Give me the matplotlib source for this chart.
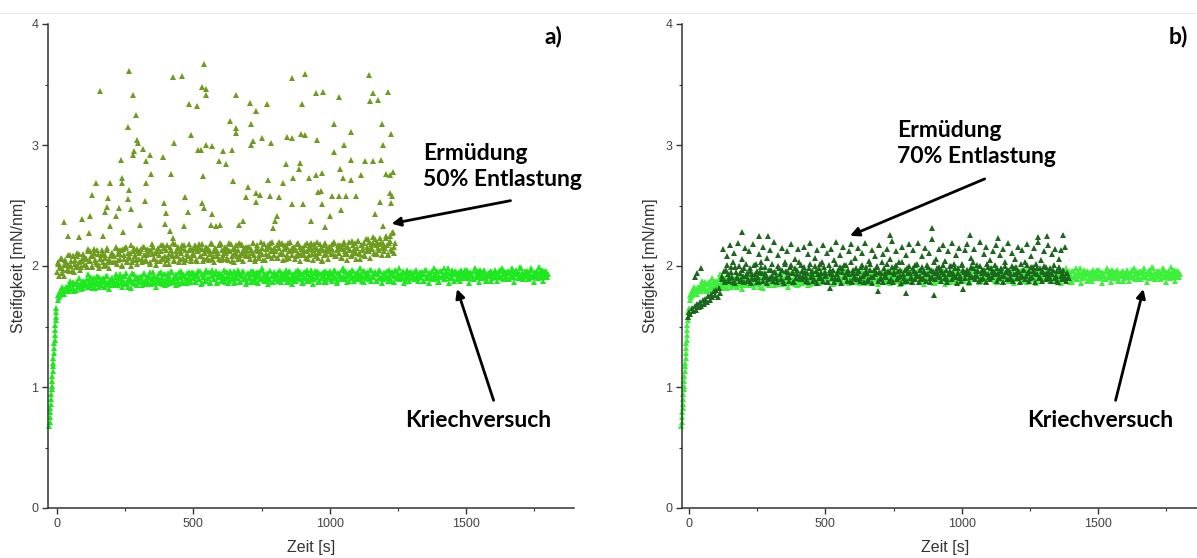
import numpy as np
import matplotlib
matplotlib.use('Agg')
import matplotlib.pyplot as plt
from matplotlib.lines import Line2D
from matplotlib.ticker import MultipleLocator

# Kriechversuch: loading ramp (1 s steps), then the creep plateau
creep_ramp_t = list(range(-28, -1))
creep_ramp_y = [0.68, 0.71, 0.75, 0.79, 0.83, 0.86, 0.90, 0.94, 0.98, 1.01, 1.05, 1.09, 1.13, 1.17,
                1.20, 1.24, 1.28, 1.32, 1.36, 1.39, 1.43, 1.47, 1.51, 1.55, 1.58, 1.62, 1.65]
creep_y = [
    1.72, 1.76, 1.79, 1.77, 1.81, 1.80, 1.83, 1.79, 1.84, 1.81, 1.86, 1.82, 1.85, 1.80, 1.87, 1.83, 1.84, 1.88, 1.82, 1.86,
    1.85, 1.89, 1.83, 1.87, 1.84, 1.90, 1.86, 1.82, 1.88, 1.85, 1.91, 1.84, 1.87, 1.89, 1.83, 1.92, 1.86, 1.88, 1.84, 1.90,
    1.87, 1.85, 1.91, 1.88, 1.84, 1.93, 1.86, 1.89, 1.85, 1.92, 1.87, 1.83, 1.90, 1.88, 1.94, 1.86, 1.89, 1.85, 1.91, 1.87,
    1.90, 1.84, 1.88, 1.93, 1.86, 1.91, 1.87, 1.95, 1.85, 1.89, 1.92, 1.86, 1.90, 1.88, 1.94, 1.87, 1.91, 1.85, 1.93, 1.89,
    1.88, 1.92, 1.86, 1.95, 1.89, 1.87, 1.93, 1.90, 1.85, 1.91, 1.96, 1.88, 1.92, 1.86, 1.94, 1.89, 1.91, 1.87, 1.95, 1.90,
    1.92, 1.87, 1.94, 1.89, 1.96, 1.86, 1.91, 1.93, 1.88, 1.95, 1.90, 1.87, 1.92, 1.97, 1.89, 1.93, 1.86, 1.91, 1.94, 1.88,
    1.93, 1.90, 1.87, 1.95, 1.91, 1.88, 1.96, 1.89, 1.92, 1.86, 1.94, 1.90, 1.97, 1.88, 1.92, 1.95, 1.89, 1.91, 1.87, 1.94,
    1.90, 1.96, 1.88, 1.93, 1.91, 1.87, 1.95, 1.92, 1.89, 1.98, 1.90, 1.93, 1.88, 1.94, 1.91, 1.96, 1.87, 1.92, 1.95, 1.89,
    1.93, 1.88, 1.96, 1.91, 1.94, 1.89, 1.92, 1.97, 1.90, 1.87, 1.95, 1.91, 1.93, 1.88, 1.96, 1.92, 1.90, 1.94, 1.89, 1.93,
    1.91, 1.95, 1.88, 1.93, 1.90, 1.97, 1.92, 1.89, 1.94, 1.91, 1.96, 1.88, 1.93, 1.90, 1.95, 1.92, 1.87, 1.94, 1.91, 1.96,
    1.89, 1.93, 1.91, 1.96, 1.88, 1.94, 1.92, 1.90, 1.97, 1.91, 1.89, 1.95, 1.92, 1.88, 1.94, 1.91, 1.96, 1.90, 1.93, 1.89,
    1.95, 1.91, 1.93, 1.88, 1.96, 1.92, 1.90, 1.94, 1.89, 1.97, 1.92, 1.91, 1.95, 1.88, 1.93, 1.90, 1.96, 1.92, 1.89, 1.94,
    1.91, 1.96, 1.90, 1.93, 1.88, 1.95, 1.92, 1.97, 1.90, 1.94, 1.89, 1.93, 1.91, 1.96, 1.88, 1.94, 1.92, 1.90, 1.95, 1.91,
    1.93, 1.89, 1.96, 1.92, 1.90, 1.95, 1.91, 1.94, 1.88, 1.97, 1.92, 1.90, 1.94, 1.91, 1.96, 1.89, 1.93, 1.95, 1.90, 1.92,
    1.96, 1.91, 1.93, 1.89, 1.95, 1.92, 1.98, 1.90, 1.94, 1.91, 1.93, 1.96, 1.89, 1.92, 1.95, 1.90, 1.94, 1.92, 1.97, 1.91,
    1.93, 1.90, 1.95, 1.92, 1.89, 1.96, 1.91, 1.94, 1.92, 1.97, 1.90, 1.93, 1.95, 1.91, 1.88, 1.94, 1.92, 1.96, 1.90, 1.93,
    1.95, 1.91, 1.94, 1.92, 1.97, 1.90, 1.93, 1.96, 1.91, 1.94, 1.89, 1.95, 1.92, 1.96, 1.91, 1.93, 1.97, 1.90, 1.94, 1.92,
    1.94, 1.91, 1.96, 1.92, 1.95, 1.90, 1.93, 1.97, 1.91, 1.94, 1.92, 1.96, 1.90, 1.95, 1.93, 1.91, 1.96, 1.92, 1.94, 1.93,
]
creep_t = np.arange(5, 5 * len(creep_y) + 5, 5)
# readings taken in between (half-step offset)
creep_mid_y = [
    1.76, 1.74, 1.79, 1.83, 1.78, 1.77, 1.83, 1.82, 1.79, 1.88, 1.82, 1.87, 1.79, 1.85, 1.87, 1.83, 1.90, 1.81, 1.85, 1.88,
    1.87, 1.84, 1.93, 1.86, 1.91, 1.82, 1.88, 1.90, 1.85, 1.92, 1.83, 1.87, 1.89, 1.90, 1.83, 1.88, 1.92, 1.85, 1.81, 1.89,
    1.90, 1.88, 1.84, 1.93, 1.86, 1.91, 1.89, 1.83, 1.92, 1.87, 1.94, 1.85, 1.88, 1.90, 1.82, 1.86, 1.93, 1.89, 1.84, 1.91,
    1.90, 1.92, 1.87, 1.94, 1.85, 1.89, 1.91, 1.92, 1.85, 1.90, 1.95, 1.87, 1.83, 1.91, 1.89, 1.86, 1.95, 1.88, 1.93, 1.84,
    1.85, 1.94, 1.89, 1.96, 1.87, 1.90, 1.92, 1.84, 1.88, 1.95, 1.91, 1.86, 1.93, 1.92, 1.90, 1.86, 1.95, 1.88, 1.93, 1.91,
    1.94, 1.87, 1.92, 1.96, 1.89, 1.85, 1.93, 1.91, 1.88, 1.97, 1.90, 1.95, 1.86, 1.92, 1.94, 1.89, 1.96, 1.87, 1.91, 1.93,
    1.91, 1.88, 1.97, 1.90, 1.95, 1.86, 1.92, 1.94, 1.89, 1.96, 1.87, 1.91, 1.93, 1.94, 1.87, 1.92, 1.96, 1.89, 1.85, 1.93,
    1.93, 1.91, 1.87, 1.96, 1.89, 1.94, 1.92, 1.86, 1.95, 1.90, 1.97, 1.88, 1.91, 1.93, 1.85, 1.89, 1.96, 1.92, 1.87, 1.94,
    1.92, 1.94, 1.89, 1.96, 1.87, 1.91, 1.93, 1.94, 1.87, 1.92, 1.96, 1.89, 1.85, 1.93, 1.91, 1.88, 1.97, 1.90, 1.95, 1.86,
    1.86, 1.95, 1.90, 1.97, 1.88, 1.91, 1.93, 1.85, 1.89, 1.96, 1.92, 1.87, 1.94, 1.93, 1.91, 1.87, 1.96, 1.89, 1.94, 1.92,
    1.95, 1.88, 1.93, 1.97, 1.90, 1.86, 1.94, 1.92, 1.89, 1.98, 1.91, 1.96, 1.87, 1.93, 1.95, 1.90, 1.97, 1.88, 1.92, 1.94,
    1.92, 1.89, 1.98, 1.91, 1.96, 1.87, 1.93, 1.95, 1.90, 1.97, 1.88, 1.92, 1.94, 1.95, 1.88, 1.93, 1.97, 1.90, 1.86, 1.94,
    1.94, 1.92, 1.88, 1.97, 1.90, 1.95, 1.93, 1.87, 1.96, 1.91, 1.98, 1.89, 1.92, 1.94, 1.86, 1.90, 1.97, 1.93, 1.88, 1.95,
    1.93, 1.95, 1.90, 1.97, 1.88, 1.92, 1.94, 1.95, 1.88, 1.93, 1.97, 1.90, 1.86, 1.94, 1.92, 1.89, 1.98, 1.91, 1.96, 1.87,
    1.87, 1.96, 1.91, 1.98, 1.89, 1.92, 1.94, 1.86, 1.90, 1.97, 1.93, 1.88, 1.95, 1.94, 1.92, 1.88, 1.97, 1.90, 1.95, 1.93,
    1.97, 1.90, 1.86, 1.94, 1.92, 1.89, 1.98, 1.91, 1.96, 1.87, 1.93, 1.95, 1.90, 1.97, 1.88, 1.92, 1.94, 1.95, 1.88, 1.93,
    1.92, 1.97, 1.88, 1.94, 1.96, 1.91, 1.98, 1.89, 1.93, 1.95, 1.96, 1.89, 1.94, 1.98, 1.91, 1.87, 1.95, 1.93, 1.90, 1.99,
    1.98, 1.89, 1.93, 1.95, 1.96, 1.89, 1.94, 1.98, 1.91, 1.87, 1.95, 1.93, 1.90, 1.99, 1.92, 1.97, 1.88, 1.94, 1.96, 1.91,
]
creep_mid_t = np.arange(2.5, 5 * len(creep_mid_y), 5)

# Ermuedung 50 % Entlastung: main band, in-between readings, scattered high readings
fat50_y = [
    1.95, 2.03, 1.98, 2.07, 1.94, 2.01, 2.05, 1.97, 2.09, 2.00, 2.04, 1.96, 2.08, 2.02, 1.99, 2.11, 2.03, 1.97, 2.06, 2.10,
    2.01, 2.07, 1.99, 2.12, 2.04, 2.08, 2.00, 2.14, 2.05, 2.02, 2.10, 1.98, 2.06, 2.13, 2.03, 2.09, 2.01, 2.15, 2.06, 2.04,
    2.11, 2.03, 2.08, 2.16, 2.02, 2.10, 2.06, 2.13, 2.00, 2.09, 2.15, 2.04, 2.11, 2.07, 2.17, 2.03, 2.12, 2.08, 2.05, 2.14,
    2.06, 2.12, 2.03, 2.16, 2.09, 2.05, 2.14, 2.10, 2.02, 2.13, 2.18, 2.07, 2.11, 2.04, 2.15, 2.09, 2.12, 2.06, 2.17, 2.08,
    2.13, 2.05, 2.10, 2.16, 2.08, 2.19, 2.04, 2.12, 2.09, 2.15, 2.06, 2.11, 2.17, 2.03, 2.13, 2.10, 2.08, 2.18, 2.07, 2.14,
    2.09, 2.15, 2.05, 2.12, 2.18, 2.08, 2.14, 2.04, 2.11, 2.16, 2.07, 2.13, 2.10, 2.19, 2.06, 2.12, 2.15, 2.08, 2.11, 2.17,
    2.05, 2.13, 2.09, 2.16, 2.11, 2.07, 2.19, 2.12, 2.04, 2.14, 2.10, 2.17, 2.08, 2.13, 2.06, 2.18, 2.11, 2.15, 2.09, 2.12,
    2.16, 2.08, 2.14, 2.11, 2.19, 2.06, 2.13, 2.17, 2.09, 2.12, 2.15, 2.05, 2.18, 2.10, 2.14, 2.08, 2.16, 2.12, 2.20, 2.09,
    2.13, 2.17, 2.07, 2.15, 2.11, 2.19, 2.10, 2.14, 2.06, 2.16, 2.12, 2.20, 2.09, 2.15, 2.13, 2.08, 2.18, 2.11, 2.16, 2.10,
    2.14, 2.09, 2.17, 2.12, 2.06, 2.15, 2.19, 2.10, 2.13, 2.16, 2.08, 2.14, 2.11, 2.18, 2.05, 2.13, 2.17, 2.10, 2.15, 2.12,
    2.16, 2.10, 2.14, 2.19, 2.08, 2.13, 2.17, 2.11, 2.15, 2.07, 2.18, 2.12, 2.16, 2.10, 2.20, 2.13, 2.09, 2.17, 2.14, 2.11,
    2.15, 2.21, 2.10, 2.17, 2.13, 2.19, 2.08, 2.16, 2.22, 2.12, 2.18, 2.14, 2.24, 2.10, 2.17, 2.20, 2.13, 2.23, 2.15, 2.19,
    2.12, 2.25, 2.17, 2.09, 2.21, 2.14, 2.27, 2.11, 2.19,
]
fat50_t = np.arange(0, 5 * len(fat50_y), 5)
fat50_mid_y = [
    2.02, 1.92, 2.00, 2.06, 1.97, 1.92, 2.03, 2.01, 1.96, 2.09, 2.00, 2.08, 1.95, 2.05, 2.08, 2.00, 2.10, 1.99, 2.04, 2.07,
    2.06, 2.01, 2.14, 2.04, 2.12, 1.99, 2.08, 2.11, 2.03, 2.13, 2.01, 2.06, 2.09, 2.10, 2.00, 2.07, 2.13, 2.03, 1.98, 2.09,
    2.11, 2.08, 2.03, 2.15, 2.05, 2.13, 2.10, 2.01, 2.14, 2.06, 2.16, 2.03, 2.08, 2.11, 2.00, 2.05, 2.15, 2.09, 2.02, 2.12,
    2.11, 2.14, 2.06, 2.16, 2.04, 2.09, 2.12, 2.13, 2.03, 2.10, 2.16, 2.06, 2.01, 2.12, 2.09, 2.04, 2.17, 2.07, 2.15, 2.02,
    2.17, 2.07, 2.02, 2.13, 2.10, 2.05, 2.18, 2.08, 2.16, 2.03, 2.12, 2.15, 2.07, 2.17, 2.05, 2.10, 2.13, 2.14, 2.04, 2.11,
    2.09, 2.17, 2.04, 2.13, 2.16, 2.08, 2.18, 2.06, 2.11, 2.14, 2.15, 2.05, 2.12, 2.18, 2.08, 2.03, 2.14, 2.11, 2.06, 2.19,
    2.18, 2.06, 2.11, 2.14, 2.15, 2.05, 2.12, 2.18, 2.08, 2.03, 2.14, 2.11, 2.06, 2.19, 2.09, 2.17, 2.04, 2.13, 2.16, 2.08,
    2.16, 2.06, 2.13, 2.19, 2.09, 2.04, 2.15, 2.12, 2.07, 2.20, 2.10, 2.18, 2.05, 2.14, 2.17, 2.09, 2.19, 2.07, 2.12, 2.15,
    2.12, 2.07, 2.20, 2.10, 2.18, 2.05, 2.14, 2.17, 2.09, 2.19, 2.07, 2.12, 2.15, 2.16, 2.06, 2.13, 2.19, 2.09, 2.04, 2.15,
    2.15, 2.12, 2.07, 2.19, 2.09, 2.17, 2.14, 2.05, 2.18, 2.10, 2.20, 2.07, 2.12, 2.15, 2.04, 2.09, 2.19, 2.13, 2.06, 2.16,
    2.15, 2.18, 2.10, 2.20, 2.08, 2.13, 2.16, 2.17, 2.07, 2.14, 2.20, 2.10, 2.05, 2.16, 2.13, 2.08, 2.21, 2.11, 2.19, 2.06,
    2.21, 2.11, 2.06, 2.17, 2.14, 2.09, 2.22, 2.12, 2.20, 2.07, 2.16, 2.19, 2.11, 2.22, 2.10, 2.15, 2.18, 2.19, 2.09, 2.16,
    2.15, 2.23, 2.10, 2.19, 2.25, 2.12, 2.28, 2.16,
]
fat50_mid_t = np.arange(2.5, 5 * len(fat50_mid_y), 5)
fat50_peak_t = [
    27, 39, 90, 82, 121, 128, 118, 142, 158, 188, 194, 182, 176, 170, 194, 216, 228, 234, 240, 238,
    243, 260, 265, 265, 270, 261, 280, 289, 294, 298, 283, 277, 316, 326, 326, 341, 344, 321, 304, 389,
    392, 399, 396, 418, 426, 430, 414, 426, 460, 465, 469, 479, 484, 493, 515, 518, 527, 536, 540, 530,
    546, 546, 532, 538, 548, 567, 569, 564, 582, 597, 593, 607, 621, 636, 640, 646, 656, 656, 658, 668,
    683, 692, 701, 707, 713, 713, 719, 729, 731, 729, 744, 750, 770, 772, 780, 786, 792, 798, 807, 814,
    829, 839, 844, 860, 862, 860, 866, 888, 890, 893, 900, 908, 902, 908, 924, 933, 951, 955, 957, 969,
    976, 973, 951, 973, 982, 1000, 1010, 1015, 1015, 1034, 1034, 1037, 1043, 1049, 1051, 1059, 1077, 1079, 1079, 1095,
    1114, 1128, 1144, 1147, 1159, 1160, 1165, 1177, 1183, 1189, 1193, 1195, 1195, 1208, 1214, 1220, 1220, 1223, 1226, 1230,
    1232,
]
fat50_peak_y = [
    2.36, 2.25, 2.39, 2.24, 2.41, 2.59, 2.27, 2.69, 3.45, 2.56, 2.69, 2.49, 2.45, 2.25, 2.33, 2.41, 2.48, 2.88, 2.73, 2.69,
    2.28, 3.15, 3.61, 2.63, 2.47, 2.55, 3.41, 3.25, 3.04, 3.02, 2.95, 2.92, 2.97, 2.87, 2.69, 2.92, 2.76, 2.54, 2.34, 2.90,
    2.52, 2.44, 2.35, 2.76, 3.56, 3.02, 2.29, 2.23, 3.57, 2.33, 2.57, 2.45, 3.34, 3.08, 3.32, 2.96, 2.96, 2.74, 3.67, 3.48,
    3.46, 3.41, 2.52, 2.48, 3.00, 2.99, 2.43, 2.34, 2.33, 2.34, 2.87, 2.95, 2.84, 3.20, 2.96, 2.70, 3.41, 3.14, 3.10, 2.34,
    2.37, 2.57, 2.65, 3.35, 3.17, 3.00, 3.03, 3.28, 2.60, 2.53, 2.59, 3.06, 3.34, 2.71, 2.58, 3.02, 2.31, 2.37, 2.41, 2.57,
    2.69, 2.84, 3.07, 3.55, 3.06, 2.51, 2.73, 2.80, 2.85, 3.09, 3.34, 3.08, 2.51, 3.59, 2.73, 2.37, 2.75, 3.04, 2.61, 2.62,
    3.44, 2.77, 3.43, 2.51, 2.32, 2.41, 2.58, 3.17, 2.94, 3.40, 2.58, 2.80, 2.46, 2.73, 3.00, 2.58, 3.11, 2.88, 2.71, 2.58,
    2.75, 2.87, 3.58, 3.36, 3.43, 2.87, 2.43, 3.37, 2.53, 2.88, 3.17, 3.00, 2.33, 2.76, 3.44, 2.75, 2.60, 2.52, 3.09, 2.58,
    2.78,
]

# Ermuedung 70 % Entlastung: early rise, main cloud, in-between readings, single readings
fat70_early_t = np.arange(-5, 120, 5)
fat70_early_y = [1.58, 1.62, 1.60, 1.65, 1.63, 1.67, 1.64, 1.69, 1.66, 1.70, 1.67, 1.72, 1.69,
                 1.73, 1.70, 1.75, 1.72, 1.77, 1.74, 1.79, 1.76, 1.80, 1.74, 1.82, 1.78]
fat70_y = [
    1.92, 2.14, 1.88, 1.97, 2.08, 1.90, 2.17, 1.95, 1.87, 2.11, 1.99, 1.91, 2.19, 1.94, 1.89, 2.06, 1.98, 2.15, 1.92, 1.88,
    2.12, 1.96, 1.90, 2.18, 1.93, 2.02, 1.87, 2.10, 1.95, 1.99, 2.16, 1.91, 1.94, 2.07, 1.89, 2.13, 1.97, 1.92, 2.20, 1.95,
    1.90, 2.09, 1.98, 1.93, 2.15, 1.88, 2.03, 1.96, 2.12, 1.91, 1.99, 2.18, 1.94, 1.87, 2.06, 1.97, 2.14, 1.92, 2.01, 1.89,
    2.16, 1.95, 1.91, 2.10, 1.98, 2.19, 1.93, 1.88, 2.07, 1.96, 2.13, 1.90, 2.02, 1.94, 2.17, 1.99, 1.92, 2.11, 1.87, 1.97,
    2.14, 1.93, 2.05, 1.90, 2.20, 1.96, 1.89, 2.09, 1.98, 2.16, 1.92, 2.01, 1.95, 2.12, 1.88, 2.18, 1.97, 1.91, 2.07, 1.94,
    2.15, 1.90, 1.99, 2.11, 1.93, 2.19, 1.96, 1.88, 2.04, 1.97, 2.13, 1.91, 2.08, 1.95, 1.99, 2.17, 1.89, 1.94, 2.10, 1.98,
    1.92, 2.14, 1.96, 2.06, 1.89, 2.21, 1.95, 1.99, 2.12, 1.91, 2.03, 1.97, 2.16, 1.93, 1.88, 2.09, 1.98, 2.18, 1.94, 1.90,
    2.13, 1.96, 2.01, 1.92, 2.19, 1.97, 1.89, 2.08, 1.95, 2.15, 1.93, 1.99, 2.11, 1.90, 2.22, 1.96, 1.94, 2.06, 1.98, 2.14,
    1.91, 1.97, 2.17, 1.93, 2.04, 1.89, 2.12, 1.96, 2.00, 2.19, 1.92, 1.98, 2.09, 1.94, 2.15, 1.90, 2.02, 1.97, 2.13, 1.93,
    2.18, 1.95, 1.91, 2.07, 1.98, 2.14, 1.92, 2.01, 1.96, 2.20, 1.89, 1.97, 2.10, 1.94, 2.16, 1.99, 1.91, 2.05, 1.95, 2.12,
    1.93, 2.17, 1.98, 1.90, 2.09, 1.96, 2.14, 1.92, 2.00, 1.97, 2.19, 1.94, 1.89, 2.11, 1.98, 2.06, 1.93, 2.16, 1.95, 1.91,
    2.13, 1.97, 2.03, 1.92, 2.18, 1.96, 1.90, 2.08, 1.99, 2.15, 1.94, 1.98, 2.20, 1.91, 2.05, 1.96, 2.12, 1.93, 1.99, 2.17,
    1.95, 1.90, 2.10, 1.97, 2.14, 1.92, 1.88, 2.06, 1.96, 2.13, 1.93, 1.89, 2.16, 1.94, 1.90,
]
fat70_t = np.arange(120, 120 + 5 * len(fat70_y), 5)
fat70_mid_y = [
    1.89, 1.96, 1.87, 2.01, 1.93, 1.88, 1.99, 1.91, 2.03, 1.86, 1.95, 1.90, 2.00, 1.88, 1.97, 1.92, 1.87, 2.02, 1.94, 1.89,
    1.98, 1.86, 1.93, 2.01, 1.89, 1.96, 1.91, 1.87, 2.03, 1.94, 1.88, 1.99, 1.92, 1.86, 1.97, 1.90, 2.02, 1.88, 1.95, 1.91,
    1.87, 2.00, 1.93, 1.89, 1.97, 1.86, 2.02, 1.91, 1.95, 1.88, 2.01, 1.94, 1.87, 1.98, 1.90, 1.93, 2.03, 1.89, 1.96, 1.92,
    1.99, 1.88, 1.94, 1.87, 2.02, 1.91, 1.96, 1.89, 2.00, 1.86, 1.93, 1.98, 1.90, 2.03, 1.88, 1.95, 1.92, 1.87, 2.01, 1.94,
    1.90, 1.97, 1.87, 2.02, 1.93, 1.89, 1.99, 1.86, 1.95, 2.01, 1.91, 1.88, 1.97, 1.93, 2.03, 1.87, 1.94, 1.90, 1.98, 1.89,
    1.96, 1.88, 2.01, 1.92, 1.87, 1.99, 1.94, 1.89, 2.02, 1.91, 1.86, 1.97, 1.93, 2.00, 1.88, 1.95, 1.90, 2.03, 1.87, 1.94,
    1.91, 2.02, 1.88, 1.95, 1.99, 1.87, 1.93, 2.01, 1.89, 1.96, 1.92, 1.86, 2.03, 1.90, 1.97, 1.88, 1.94, 2.00, 1.91, 1.87,
    1.98, 1.89, 1.94, 2.02, 1.87, 1.92, 1.99, 1.90, 1.96, 1.88, 2.01, 1.93, 1.87, 1.97, 1.91, 2.03, 1.89, 1.95, 1.92, 1.99,
    1.88, 1.95, 2.01, 1.90, 1.97, 1.87, 1.93, 2.00, 1.89, 1.94, 2.02, 1.91, 1.86, 1.98, 1.92, 1.88, 2.01, 1.95, 1.90, 1.97,
    1.93, 1.87, 1.99, 1.91, 2.03, 1.89, 1.96, 1.92, 1.88, 2.00, 1.94, 1.90, 1.97, 1.87, 2.02, 1.93, 1.89, 1.98, 1.91, 1.95,
    2.01, 1.88, 1.94, 1.90, 1.98, 1.92, 1.87, 2.03, 1.95, 1.89, 1.97, 1.91, 2.00, 1.88, 1.93, 1.99, 1.90, 1.96, 1.87, 2.02,
    1.92, 1.97, 1.89, 2.01, 1.94, 1.88, 1.99, 1.91, 1.96, 1.87, 2.02, 1.93, 1.90, 1.98, 1.88, 1.95, 2.00, 1.89, 1.94, 1.91,
    1.98, 1.88, 1.93, 2.01, 1.90, 1.96, 1.87, 1.99, 1.92, 1.89, 1.97, 1.91, 1.88, 1.94, 1.90,
]
fat70_mid_t = np.arange(122.5, 120 + 5 * len(fat70_mid_y), 5)
fat70_single_t = [22, 44, 30, 194, 257, 289, 736, 890, 1029, 1132, 1278, 1311, 1370, 517, 692, 795, 897, 1003]
fat70_single_y = [1.91, 1.98, 1.94, 2.28, 2.25, 2.25, 2.26, 2.31, 2.26, 2.23, 2.24, 2.25, 2.26, 1.82, 1.79, 1.78, 1.76, 1.81]

CREEP_A = '#1ee81e'
CREEP_B = '#3cf03c'
OLIVE = '#6e9c1e'
DARK = '#1d661d'

W, H = 1197, 558
fig = plt.figure(figsize=(W / 100, H / 100), dpi=100)
fig.add_artist(Line2D([0, 1], [1 - 13 / H, 1 - 13 / H], color='#ececec', lw=0.8))

label_font = dict(family='Liberation Sans', size=11.5, color='#333333')
note_font = dict(family='Lato', weight='bold', size=16.5, color='black')
arrow = dict(arrowstyle='-|>', color='black', lw=2, mutation_scale=13, shrinkA=0, shrinkB=0)


def style_axes(ax, xmin, ylabel_x):
    ax.set_xlim(xmin, xmin + 526 / 0.2727)
    ax.set_ylim(0, 4)
    for side in ('top', 'right'):
        ax.spines[side].set_visible(False)
    for side in ('left', 'bottom'):
        ax.spines[side].set_color('#333333')
        ax.spines[side].set_linewidth(1.1)
    ax.xaxis.set_major_locator(MultipleLocator(500))
    ax.xaxis.set_minor_locator(MultipleLocator(250))
    ax.yaxis.set_major_locator(MultipleLocator(1))
    ax.yaxis.set_minor_locator(MultipleLocator(0.5))
    ax.tick_params(which='major', direction='out', length=4, width=1, color='#333333',
                   labelsize=9, labelcolor='#444444', pad=3)
    ax.tick_params(which='minor', direction='out', length=2.5, width=0.8, color='#333333')
    for lab in ax.get_xticklabels() + ax.get_yticklabels():
        lab.set_family('Liberation Sans')
    ax.set_xlabel('Zeit [s]', **label_font)
    ax.set_ylabel('Steifigkeit [mN/nm]', **label_font)
    ax.xaxis.set_label_coords(0.5, -0.066)
    ax.yaxis.set_label_coords(ylabel_x, 0.5)


def tri(ax, x, y, color):
    ax.plot(x, y, linestyle='none', marker='^', ms=4.3, mew=0, color=color, clip_on=False)


# panel a
ax_a = fig.add_axes([48 / W, 50 / H, 526 / W, 484 / H])
tri(ax_a, creep_ramp_t, creep_ramp_y, CREEP_A)
tri(ax_a, creep_t, creep_y, CREEP_A)
tri(ax_a, creep_mid_t, creep_mid_y, CREEP_A)
tri(ax_a, fat50_t, fat50_y, OLIVE)
tri(ax_a, fat50_mid_t, fat50_mid_y, OLIVE)
tri(ax_a, fat50_peak_t, fat50_peak_y, OLIVE)
style_axes(ax_a, -33, -0.042)
ax_a.text(1822, 3.90, 'a)', ha='center', va='center', **note_font)
ax_a.text(1342, 2.82, 'Ermüdung\n50% Entlastung', ha='left', va='center', linespacing=1.3, **note_font)
ax_a.text(1544, 0.72, 'Kriechversuch', ha='center', va='center', **note_font)
ax_a.annotate('', xy=(1227, 2.35), xytext=(1663, 2.54), arrowprops=arrow)
ax_a.annotate('', xy=(1467, 1.81), xytext=(1601, 0.89), arrowprops=arrow)

# panel b
ax_b = fig.add_axes([682 / W, 50 / H, 526 / W, 484 / H])
tri(ax_b, creep_ramp_t, creep_ramp_y, CREEP_B)
tri(ax_b, creep_t, creep_y, CREEP_B)
tri(ax_b, creep_mid_t, creep_mid_y, CREEP_B)
tri(ax_b, fat70_early_t, fat70_early_y, DARK)
tri(ax_b, fat70_t, fat70_y, DARK)
tri(ax_b, fat70_mid_t, fat70_mid_y, DARK)
tri(ax_b, fat70_single_t, fat70_single_y, DARK)
style_axes(ax_b, -26, -0.046)
ax_b.text(1793, 3.90, 'b)', ha='center', va='center', **note_font)
ax_b.text(763, 3.015, 'Ermüdung\n70% Entlastung', ha='left', va='center', linespacing=1.3, **note_font)
ax_b.text(1507, 0.72, 'Kriechversuch', ha='center', va='center', **note_font)
ax_b.annotate('', xy=(590, 2.25), xytext=(1084, 2.72), arrowprops=arrow)
ax_b.annotate('', xy=(1666, 1.81), xytext=(1564, 0.89), arrowprops=arrow)

fig.savefig('out.png', dpi=100)
